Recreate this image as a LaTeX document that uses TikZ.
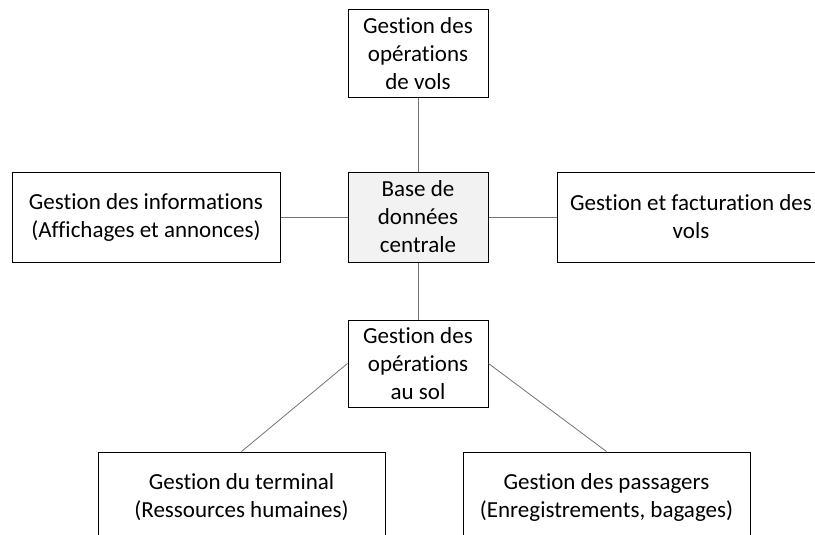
\documentclass[tikz,border=0pt]{standalone}
\usepackage{fontspec}
\setmainfont[Ligatures=NoCommon]{Carlito}
\begin{document}
\begin{tikzpicture}[x=1pt,y=-1pt,
  box/.style={draw=black,line width=1pt,fill=white,inner sep=0pt,align=center,
    font=\fontsize{23}{28}\selectfont},
  link/.style={draw=black!55,line width=0.8pt}]
\useasboundingbox (0,0) rectangle (815,535);
\clip (0,0) rectangle (815,535);
\node[box,minimum width=140,minimum height=88] (top) at (418,54) {Gestion des\\opérations\\de vols};
\node[box,fill=black!5,minimum width=140,minimum height=90] (db) at (418,217) {Base de\\données\\centrale};
\node[box,minimum width=268,minimum height=90] (info) at (146,217) {Gestion des informations\\(Affichages et annonces)};
\node[box,minimum width=268,minimum height=90] (fact) at (691,217) {Gestion et facturation des\\vols};
\node[box,minimum width=140,minimum height=87] (sol) at (418,363.5) {Gestion des\\opérations\\au sol};
\node[box,minimum width=287,minimum height=90] (term) at (241.5,497) {Gestion du terminal\\(Ressources humaines)};
\node[box,minimum width=287,minimum height=90] (pass) at (606.5,497) {Gestion des passagers\\(Enregistrements, bagages)};
\draw[link] (top.south) -- (db.north);
\draw[link] (info.east) -- (db.west);
\draw[link] (db.east) -- (fact.west);
\draw[link] (db.south) -- (sol.north);
\draw[link] (sol.west) -- (term.north);
\draw[link] (sol.east) -- (pass.north);
\end{tikzpicture}
\end{document}
